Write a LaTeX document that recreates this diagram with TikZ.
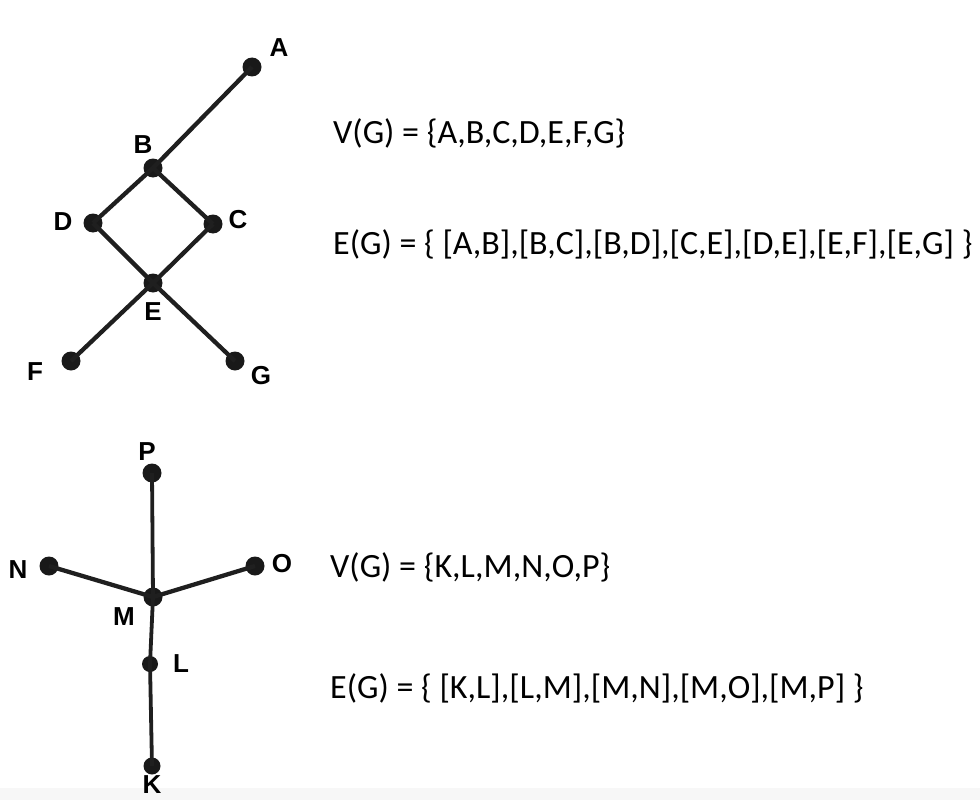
\documentclass[tikz,border=0pt]{standalone}
\usepackage{fontspec}
\setmainfont{Carlito}
\newfontfamily\lblfont{Liberation Sans}
\begin{document}
\begin{tikzpicture}[x=1pt,y=-1pt,
  vtx/.style={circle,fill=black!90,inner sep=0pt,minimum size=19pt},
  edge/.style={line width=4.3pt,draw=black!88},
  lbl/.style={font=\lblfont\bfseries\fontsize{26}{30}\selectfont,inner sep=0pt},
  settext/.style={font=\fontsize{34}{40}\selectfont,anchor=west,inner sep=0pt}]
\useasboundingbox (0,0) rectangle (980,800);
\fill[black!3] (0,788) rectangle (980,800);
% top graph
\node[vtx] (A) at (252,67) {};
\node[vtx] (B) at (153,168) {};
\node[vtx] (D) at (93,223) {};
\node[vtx] (C) at (213,224) {};
\node[vtx] (E) at (153,283) {};
\node[vtx] (F) at (71,361) {};
\node[vtx] (G) at (235,361) {};
\draw[edge] (A.center) -- (B.center);
\draw[edge] (B.center) -- (D.center);
\draw[edge] (B.center) -- (C.center);
\draw[edge] (D.center) -- (E.center);
\draw[edge] (C.center) -- (E.center);
\draw[edge] (E.center) -- (F.center);
\draw[edge] (E.center) -- (G.center);
\node[lbl] (lA) at (279,48) {A};
\node[lbl] (lB) at (143,145) {B};
\node[lbl] (lD) at (63,222) {D};
\node[lbl] (lC) at (238,220) {C};
\node[lbl] (lE) at (153,312) {E};
\node[lbl] (lF) at (35,372) {F};
\node[lbl] (lG) at (261,376) {G};
% bottom graph
\node[vtx] (P) at (152,473) {};
\node[vtx] (N) at (49,566) {};
\node[vtx] (O) at (255,566) {};
\node[vtx] (M) at (153,597) {};
\node[vtx,minimum size=16pt] (L) at (150,664) {};
\node[vtx,minimum size=17pt] (K) at (152,766) {};
\draw[edge,line width=3.8pt] (P.center) -- (M.center);
\draw[edge] (N.center) -- (M.center);
\draw[edge] (O.center) -- (M.center);
\draw[edge,line width=3.8pt] (M.center) -- (L.center);
\draw[edge,line width=3.8pt] (L.center) -- (K.center);
\node[lbl] (lP) at (147,452) {P};
\node[lbl] (lN) at (18,570) {N};
\node[lbl] (lO) at (282,564) {O};
\node[lbl] (lM) at (124,617) {M};
\node[lbl] (lL) at (181,664) {L};
\node[lbl] (lK) at (152,785) {K};
% set texts
\node[settext] (v1) at (333,133) {V(G) = \{A,B,C,D,E,F,G\}};
\node[settext] (e1) at (333,244) {E(G) = \{ [A,B],[B,C],[B,D],[C,E],[D,E],[E,F],[E,G] \}};
\node[settext] (v2) at (330,567) {V(G) = \{K,L,M,N,O,P\}};
\node[settext] (e2) at (330,688) {E(G) = \{ [K,L],[L,M],[M,N],[M,O],[M,P] \}};
\end{tikzpicture}
\end{document}
